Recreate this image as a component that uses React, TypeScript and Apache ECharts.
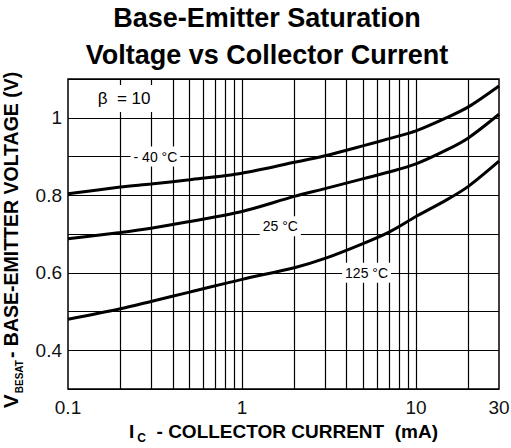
import React, { useEffect, useRef } from "react";
import * as echarts from "echarts";

const FONT = "'Liberation Sans', Arial, Helvetica, sans-serif";

// Collector current (mA) sample points
const currents = [0.1, 0.2, 0.3, 0.5, 1, 2, 3, 5, 7, 10, 15, 20, 30];
// VBE(sat) readings (V)
const vMinus40 = [0.804, 0.821, 0.829, 0.840, 0.857, 0.885, 0.902, 0.928, 0.946, 0.966, 1.0, 1.028, 1.082];
const v25 = [0.688, 0.704, 0.715, 0.732, 0.758, 0.797, 0.817, 0.843, 0.860, 0.881, 0.917, 0.948, 1.009];
const v125 = [0.48, 0.507, 0.526, 0.55, 0.583, 0.613, 0.637, 0.676, 0.705, 0.745, 0.788, 0.823, 0.888];

// Vertical grid lines of the log paper
const gridCurrents = [0.2, 0.3, 0.4, 0.5, 0.6, 0.7, 0.8, 0.9, 1, 2, 3, 4, 5, 6, 7, 8, 9, 10, 20];
const yTickLabels = ["0.4", "0.6", "0.8", "1"];

// Annotation anchors [current, voltage]
const labelMinus40 = [0.318, 0.9];
const label25 = [1.66, 0.72];
const label125 = [5.2, 0.6];
const labelBeta = [0.21, 1.05];

export default function App() {
  const ref = useRef<HTMLDivElement>(null);
  useEffect(() => {
    if (!ref.current) return;
    const chart = echarts.init(ref.current, undefined, { renderer: "svg" });
    const curveStyle = { color: "#000", width: 3 };
    const mkLabel = (name: string, coord: number[], fontSize = 14, padding = [3, 3]) => ({
      name,
      coord,
      symbolSize: 0,
      label: {
        show: true,
        position: "inside",
        formatter: name,
        color: "#000",
        fontFamily: FONT,
        fontSize,
        backgroundColor: "#fff",
        padding,
      },
    });
    const curve = (name: string, vals: number[]) => ({
      type: "line",
      name,
      data: currents.map((c, i) => [c, vals[i]]),
      smooth: 0.3,
      showSymbol: false,
      lineStyle: curveStyle,
      z: 5,
    });
    chart.setOption({
      animation: false,
      backgroundColor: "#fff",
      textStyle: { fontFamily: FONT },
      graphic: [
        {
          type: "text",
          x: 267,
          y: 18,
          style: {
            text: "Base-Emitter Saturation",
            font: `bold 27px ${FONT}`,
            fill: "#000",
            textAlign: "center",
            textVerticalAlign: "middle",
          },
        },
        {
          type: "text",
          x: 267,
          y: 55,
          style: {
            text: "Voltage vs Collector Current",
            font: `bold 27px ${FONT}`,
            fill: "#000",
            textAlign: "center",
            textVerticalAlign: "middle",
          },
        },
      ],
      grid: {
        left: 68,
        right: 12,
        top: 79,
        bottom: 59,
        outerBoundsMode: "none",
        containLabel: false,
        show: true,
        borderColor: "#000",
        borderWidth: 1.5,
        backgroundColor: "transparent",
      },
      xAxis: {
        type: "log",
        logBase: 10,
        min: 0.1,
        max: 30,
        axisLine: { show: false },
        axisTick: { show: false },
        splitLine: { show: false },
        axisLabel: {
          color: "#111",
          fontSize: 19,
          fontFamily: FONT,
          margin: 9,
          showMinLabel: true,
          showMaxLabel: true,
          formatter: (v: number) => String(+v.toPrecision(3)),
        },
        name: "{i|I}{sub|C}{t|  - COLLECTOR CURRENT  (mA)}",
        nameLocation: "middle",
        nameGap: 32,
        nameTextStyle: {
          rich: {
            i: { fontSize: 19, fontWeight: "bold", fontFamily: FONT, color: "#000", lineHeight: 20 },
            sub: { fontSize: 12, fontWeight: "bold", fontFamily: FONT, color: "#000", verticalAlign: "bottom", lineHeight: 12, padding: [0, 0, -3, 3] },
            t: { fontSize: 19, fontWeight: "bold", fontFamily: FONT, color: "#000", lineHeight: 20 },
          },
        },
      },
      yAxis: {
        type: "value",
        min: 0.3,
        max: 1.1,
        interval: 0.1,
        axisLine: { show: false },
        axisTick: { show: false },
        splitLine: { show: true, lineStyle: { color: "#000", width: 1.2 } },
        axisLabel: {
          color: "#111",
          fontSize: 19,
          fontFamily: FONT,
          margin: 6,
          formatter: (v: number) => {
            const s = String(+v.toFixed(1));
            return yTickLabels.includes(s) ? s : "";
          },
        },
        name: "{v|V}{sub|BESAT}{t|- BASE-EMITTER VOLTAGE (V)}",
        nameLocation: "middle",
        nameRotate: 90,
        nameGap: 39,
        nameTextStyle: {
          padding: [0, 12, 0, 0],
          rich: {
            v: { fontSize: 21, fontWeight: "bold", fontFamily: FONT, color: "#000", lineHeight: 22 },
            sub: { fontSize: 10, fontWeight: "bold", fontFamily: FONT, color: "#000", verticalAlign: "bottom", lineHeight: 10, padding: [0, 2, -3, 1] },
            t: { fontSize: 19.5, fontWeight: "bold", fontFamily: FONT, color: "#000", lineHeight: 22 },
          },
        },
      },
      series: [
        {
          type: "line",
          name: "grid",
          data: [],
          silent: true,
          markLine: {
            silent: true,
            symbol: "none",
            label: { show: false },
            lineStyle: { color: "#000", width: 1.2, type: "solid" },
            data: gridCurrents.map((c) => ({ xAxis: c })),
          },
        },
        curve("-40", vMinus40),
        curve("25", v25),
        {
          ...curve("125", v125),
          markPoint: {
            silent: true,
            symbol: "rect",
            data: [
              mkLabel("- 40 °C", labelMinus40),
              mkLabel("25 °C", label25),
              mkLabel("125 °C", label125),
              mkLabel("β  = 10", labelBeta, 17, [5, 4]),
            ],
          },
        },
      ],
    });
    return () => chart.dispose();
  }, []);
  return (
    <div
      ref={ref}
      style={{ position: "fixed", left: 0, top: 0, width: 511, height: 448, background: "#fff" }}
    />
  );
}
